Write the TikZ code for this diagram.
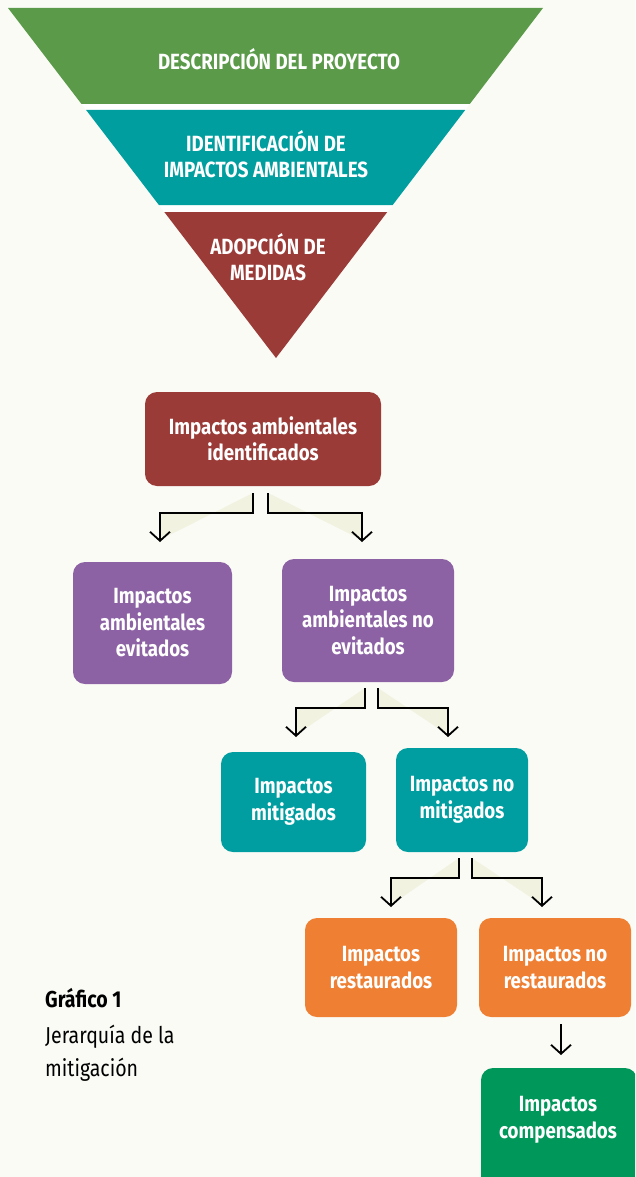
\documentclass[tikz,border=0pt]{standalone}
\usepackage{fontspec}
\setmainfont{Fira Sans}
\newfontfamily\condf[FakeStretch=0.85]{Fira Sans}
\usetikzlibrary{arrows.meta}
\definecolor{bg}{HTML}{FBFBF6}
\definecolor{bandgreen}{HTML}{5A9A48}
\definecolor{bandteal}{HTML}{009E9F}
\definecolor{bandred}{HTML}{9A3B37}
\definecolor{boxpurple}{HTML}{8C62A4}
\definecolor{boxteal}{HTML}{009EA0}
\definecolor{boxorange}{HTML}{EE7F33}
\definecolor{boxgreen}{HTML}{00975A}
\definecolor{cream}{HTML}{F1F2E0}
\tikzset{
  bandtext/.style={text=white, font=\condf\bfseries\fontsize{22}{26}\selectfont, align=center},
  box/.style={rectangle, rounded corners=12pt, align=center, text=white,
    font=\condf\bfseries\fontsize{22}{26.5}\selectfont, inner sep=0pt},
  conn/.style={draw=black, line width=1.8pt, fill=cream,
    -{Straight Barb[length=9pt,width=20pt,line width=1.8pt]}},
  plainconn/.style={draw=black, line width=1.8pt,
    -{Straight Barb[length=9pt,width=20pt,line width=1.8pt]}}
}
\begin{document}
\begin{tikzpicture}[x=1pt,y=-1pt]
\fill[bg] (0,0) rectangle (635,1177);
\useasboundingbox (0,0) rectangle (635,1177);
\clip (0,0) rectangle (635,1177);
% inverted pyramid
\fill[white] (8,8) -- (543,8) -- (276,358) -- cycle;
\fill[bandgreen] (8,8) -- (543,8) -- (469.8,104) -- (81.5,104) -- cycle;
\fill[bandteal] (86.1,110) -- (465.2,110) -- (392.7,205) -- (158.9,205) -- cycle;
\fill[bandred] (164.3,212) -- (387.3,212) -- (276,358) -- cycle;
\node[bandtext] (tb1) at (279,59) {DESCRIPCIÓN DEL PROYECTO};
\node[bandtext] (tb2) at (266,154) {IDENTIFICACIÓN DE\\IMPACTOS AMBIENTALES};
\node[bandtext] (tb3) at (268,257) {ADOPCIÓN DE\\MEDIDAS};
% connectors (drawn first so boxes cover their ends)
\coordinate (a1) at (253,493); \coordinate (a1t) at (160,542);
\coordinate (a2) at (268,493); \coordinate (a2t) at (362,542);
\coordinate (c1) at (365,688); \coordinate (c1t) at (296,737);
\coordinate (c2) at (378,688); \coordinate (c2t) at (448,737);
\coordinate (e1) at (459,858); \coordinate (e1t) at (391,907);
\coordinate (e2) at (472,858); \coordinate (e2t) at (542,907);
\coordinate (g1) at (561,1024); \coordinate (g1t) at (561,1055);
\draw[conn] (a1) |- (a1t |- 0,513) -- (a1t);
\draw[conn] (a2) |- (a2t |- 0,513) -- (a2t);
\draw[conn] (c1) |- (c1t |- 0,708) -- (c1t);
\draw[conn] (c2) |- (c2t |- 0,708) -- (c2t);
\draw[conn] (e1) |- (e1t |- 0,878) -- (e1t);
\draw[conn] (e2) |- (e2t |- 0,878) -- (e2t);
\draw[plainconn] (g1) -- (g1t);
% boxes
\node[box, fill=bandred, minimum width=236pt, minimum height=94pt] (b1) at (263,439) {Impactos ambientales\\identificados};
\node[box, fill=boxpurple, minimum width=159pt, minimum height=122pt] (b2) at (152.5,623) {Impactos\\ambientales\\evitados};
\node[box, fill=boxpurple, minimum width=172pt, minimum height=123pt] (b3) at (368,620.5) {Impactos\\ambientales no\\evitados};
\node[box, fill=boxteal, minimum width=145pt, minimum height=100pt] (b4) at (293.5,802) {Impactos\\mitigados};
\node[box, fill=boxteal, minimum width=132pt, minimum height=104pt] (b5) at (462,800) {Impactos no\\mitigados};
\node[box, fill=boxorange, minimum width=152pt, minimum height=99pt] (b6) at (381,967.5) {Impactos\\restaurados};
\node[box, fill=boxorange, minimum width=152pt, minimum height=99pt] (b7) at (555,967.5) {Impactos no\\restaurados};
\node[box, fill=boxgreen, minimum width=156pt, minimum height=124pt] (b8) at (559,1130) {};
\node[box] (t8) at (558,1120) {Impactos\\compensados};
% caption
\node[anchor=north west, align=left, inner sep=0pt, font=\condf\fontsize{23}{33}\selectfont] (cap) at (45,988)
  {{\bfseries Gráfico 1}\\[3pt]Jerarquía de la\\mitigación};
\end{tikzpicture}
\end{document}
